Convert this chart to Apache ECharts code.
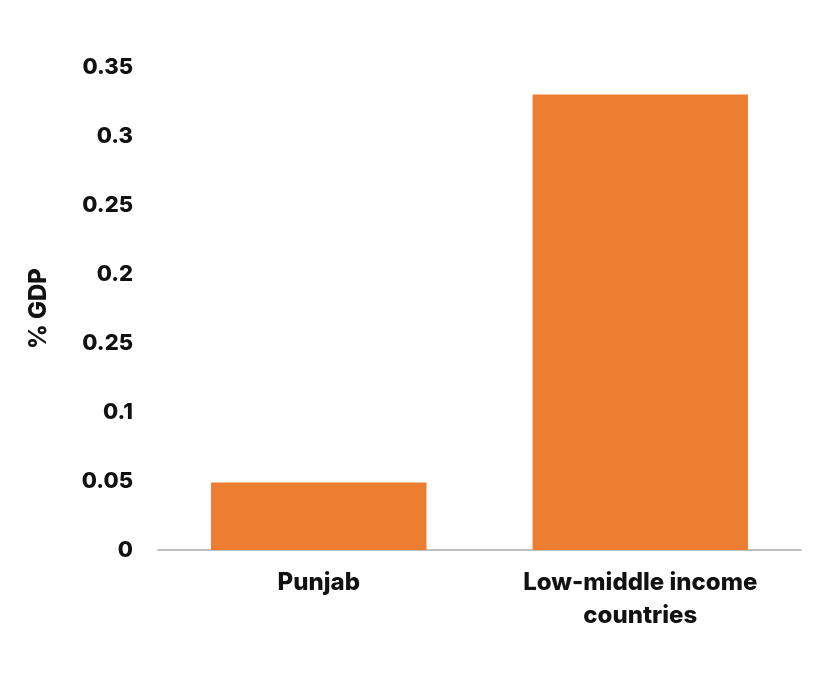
<!DOCTYPE html>
<html>
<head>
<meta charset="utf-8">
<script src="https://cdn.jsdelivr.net/npm/echarts@6/dist/echarts.min.js"></script>
<style>
  html, body { margin: 0; padding: 0; background: #fff; }
  #chart { width: 813px; height: 682px; }
</style>
</head>
<body>
<div id="chart"></div>
<script>
const categories = ['Punjab', 'Low-middle income countries'];
const values = [0.049, 0.33];
// tick labels as printed on the original (the 0.15 tick reads "0.25")
const tickLabels = ['0', '0.05', '0.1', '0.25', '0.2', '0.25', '0.3', '0.35'];

const font = "Inter, 'Open Sans', sans-serif";
const chart = echarts.init(document.getElementById('chart'));

chart.setOption({
    backgroundColor: '#fff',
    animation: false,
    grid: {left: 158, right: 12, top: 67, bottom: 132},
    xAxis: {
        type: 'category',
        data: categories,
        axisLine: {lineStyle: {color: '#bfbfbf', width: 2}},
        axisTick: {show: false},
        axisLabel: {
            color: '#111',
            fontFamily: font,
            fontWeight: 800,
            fontSize: 24,
            lineHeight: 33,
            margin: 16,
            formatter: v => v.replace(' countries', '\ncountries')
        }
    },
    yAxis: {
        type: 'value',
        min: 0,
        max: 0.35,
        interval: 0.05,
        name: '% GDP',
        nameLocation: 'middle',
        nameRotate: 90,
        nameGap: 107,
        nameTextStyle: {color: '#111', fontFamily: font, fontWeight: 800, fontSize: 24},
        axisLine: {show: false},
        axisTick: {show: false},
        splitLine: {show: false},
        axisLabel: {
            color: '#111',
            fontFamily: font,
            fontWeight: 800,
            fontSize: 22,
            margin: 25,
            formatter: v => tickLabels[Math.round(v / 0.05)]
        }
    },
    series: [{
        type: 'bar',
        data: values,
        barWidth: '67%',
        itemStyle: {color: '#ED7D31'}
    }]
});
</script>
</body>
</html>
